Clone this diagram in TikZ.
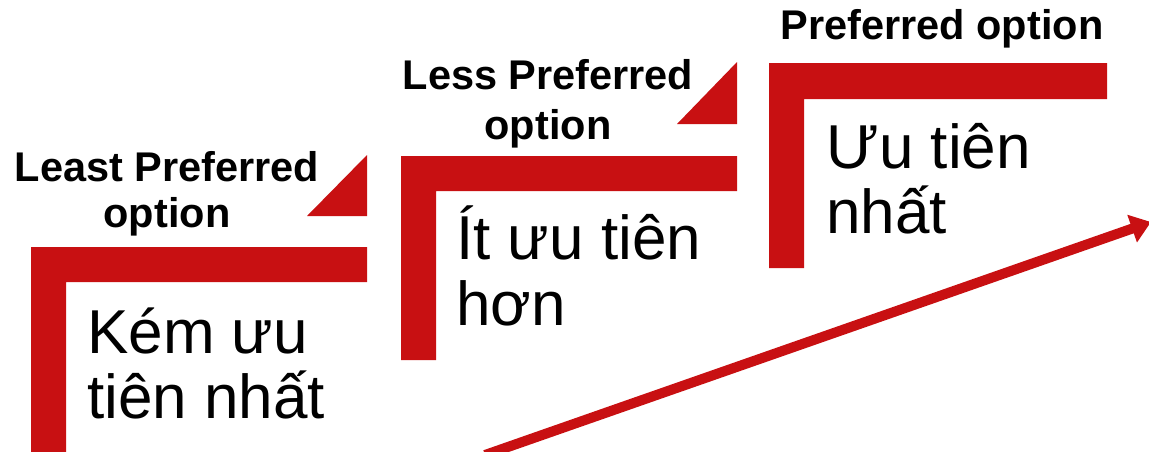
\documentclass[tikz,border=0pt]{standalone}
\usepackage{fontspec}
\setmainfont{Liberation Sans}
\usetikzlibrary{arrows.meta}
\definecolor{stepred}{RGB}{200,16,18}
\tikzset{
  bar/.style={fill=stepred, draw=none},
  head/.style={font=\bfseries, inner sep=0pt, align=center, anchor=base},
  body/.style={inner sep=0pt, align=left, anchor=base west},
}
\begin{document}
\begin{tikzpicture}[x=1pt,y=-1pt]
\useasboundingbox (0,0) rectangle (1149,451);
\clip (0,0) rectangle (1149,451);
% steps
\fill[bar] (31,247) -- (367,247) -- (367,282) -- (66,282) -- (66,452) -- (31,452) -- cycle;
\fill[bar] (401,156) -- (737,156) -- (737,191) -- (436,191) -- (436,360) -- (401,360) -- cycle;
\fill[bar] (769,63) -- (1107,63) -- (1107,99) -- (804,99) -- (804,268) -- (769,268) -- cycle;
\fill[bar] (307,216) -- (367,216) -- (367,155) -- cycle;
\fill[bar] (677,124) -- (737,124) -- (737,62) -- cycle;
% labels (base anchor = last line baseline)
\node[head, font=\bfseries\fontsize{41.5}{46}\selectfont] (least) at (167,227) {Least Preferred\\option};
\node[head, font=\bfseries\fontsize{41.5}{50}\selectfont] (less) at (548,139) {Less Preferred\\option};
\node[head, font=\bfseries\fontsize{41.5}{46}\selectfont] (pref) at (942,39) {Preferred option};
\node[body, font=\fontsize{62}{65}\selectfont] (kem) at (87,418) {Kém ưu\\tiên nhất};
\node[body, font=\fontsize{62}{66}\selectfont] (it) at (456,325) {Ít ưu tiên\\hơn};
\node[body, font=\fontsize{62}{65}\selectfont] (uu) at (826,233) {Ưu tiên\\nhất};
% arrow
\coordinate (arrS) at (485,455);
\coordinate (arrE) at (1151,222);
\draw[stepred, line width=10pt, -{Triangle[length=20pt,width=28pt]}] (arrS) -- (arrE);
\end{tikzpicture}
\end{document}
